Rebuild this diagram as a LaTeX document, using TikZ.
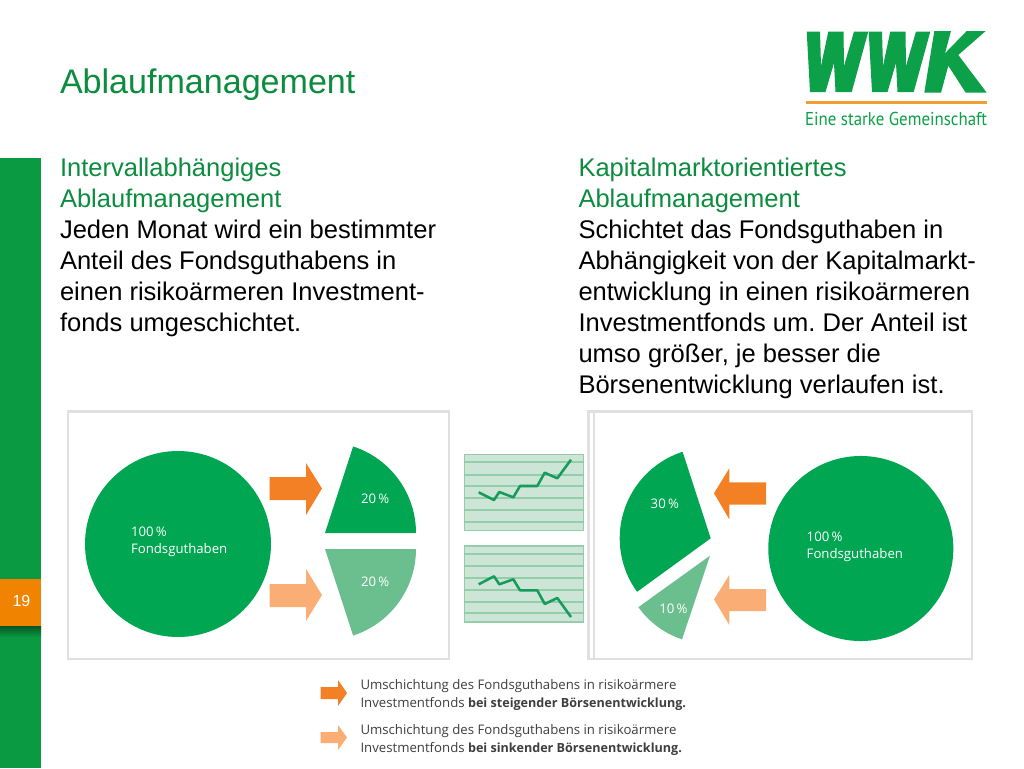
\documentclass[tikz,border=0pt]{standalone}
\usepackage{fontspec}
\setmainfont{Liberation Sans}
\newfontfamily\picfont{Open Sans}
\newfontfamily\logofont{PT Sans}
\frenchspacing
\definecolor{wgreen}{RGB}{10,154,66}
\definecolor{wtitle}{RGB}{12,140,62}
\definecolor{pgreen}{RGB}{0,166,81}
\definecolor{plight}{RGB}{107,190,142}
\definecolor{aorange}{RGB}{243,128,36}
\definecolor{alight}{RGB}{250,174,117}
\definecolor{wbar}{RGB}{240,131,0}
\definecolor{chartbg}{RGB}{205,229,214}
\definecolor{chartln}{RGB}{148,205,170}
\definecolor{chartcv}{RGB}{22,156,90}
\definecolor{legtxt}{RGB}{62,62,62}
\definecolor{logogreen}{RGB}{12,160,72}
\definecolor{logoline}{RGB}{240,160,50}
\tikzset{
  x=0.75pt,y=-0.75pt,
  txt/.style={anchor=base west,inner sep=0pt,outer sep=0pt},
  titletxt/.style={txt,text=wtitle,font=\fontsize{25.55}{28}\selectfont},
  headtxt/.style={txt,text=wtitle,font=\fontsize{19.15}{22}\selectfont},
  bodytxt/.style={txt,text=black,font=\fontsize{19.15}{22}\selectfont},
  pietxt/.style={txt,text=white,font=\picfont\fontsize{9.9}{12}\selectfont},
  legtext/.style={txt,text=legtxt,font=\picfont\fontsize{9.9}{12}\selectfont},
  framebox/.style={draw=black!12,line width=2.2pt,fill=white},
  chartbox/.style={fill=chartbg,draw=chartln,line width=1.4pt},
  chartline/.style={draw=chartln,line width=1.5pt},
  trend/.style={draw=chartcv,line width=1.9pt,line join=round},
}
\newcommand{\sect}[6]{% cx cy r a b colour
  \fill[#6] (#1,#2) -- plot[domain=#4:#5,samples=40,smooth] ({#1+#3*cos(\x)},{#2-#3*sin(\x)}) -- cycle;}
\newcommand{\legbold}[1]{{\fontsize{9.45}{12}\selectfont\bfseries #1}}
\begin{document}
\begin{tikzpicture}
\useasboundingbox (0,0) rectangle (1024,768);
\fill[white] (0,0) rectangle (1024,768);
% sidebar
\fill[wgreen] (0,158) rectangle (41,768);
\shade[top color=wgreen!55!black,bottom color=wgreen] (0,626) rectangle (41,637);
\fill[wbar] (0,579) rectangle (41,626);
\node[anchor=center,inner sep=0pt,text=white,font=\fontsize{12}{14}\selectfont] (pagenum) at (21.5,601) {19};
% title
\node[titletxt] (title) at (60,93) {Ablaufmanagement};
% left column
\node[headtxt] (lh1) at (60,176) {Intervallabhängiges};
\node[headtxt] (lh2) at (60,207) {Ablaufmanagement};
\node[bodytxt] (lb1) at (60,238) {Jeden Monat wird ein bestimmter};
\node[bodytxt] (lb2) at (60,269) {Anteil des Fondsguthabens in};
\node[bodytxt] (lb3) at (60,300) {einen risikoärmeren Investment-};
\node[bodytxt] (lb4) at (60,331) {fonds umgeschichtet.};
% right column
\node[headtxt] (rh1) at (578.5,176) {Kapitalmarktorientiertes};
\node[headtxt] (rh2) at (578.5,207) {Ablaufmanagement};
\node[bodytxt] (rb1) at (578.5,238) {Schichtet das Fondsguthaben in};
\node[bodytxt] (rb2) at (578.5,269) {Abhängigkeit von der Kapitalmarkt-};
\node[bodytxt] (rb3) at (578.5,300) {entwicklung in einen risikoärmeren};
\node[bodytxt] (rb4) at (578.5,331) {Investmentfonds um. Der Anteil ist};
\node[bodytxt] (rb5) at (578.5,362) {umso größer, je besser die};
\node[bodytxt] (rb6) at (578.5,393) {Börsenentwicklung verlaufen ist.};
% logo
\fill[logogreen] (806.7,31.5) -- (820,31.5) -- (821,66) -- (828.3,31.5) -- (843.5,31.5) -- (844,66) -- (854,31.5) -- (868.3,31.5) -- (851.7,92) -- (835.5,92) -- (834,63) -- (825.5,92) -- (810,92) -- cycle;
\fill[logogreen] (868.7,31.5) -- (882,31.5) -- (883,66) -- (890.3,31.5) -- (905.5,31.5) -- (906,66) -- (916,31.5) -- (930.3,31.5) -- (913.7,92) -- (897.5,92) -- (896,63) -- (887.5,92) -- (872,92) -- cycle;
\fill[logogreen] (934.3,31) -- (951,31) -- (945,53.3) -- (966.7,31) -- (985.7,31) -- (958.3,55) -- (986.7,92.7) -- (965.7,92.7) -- (948.3,65.7) -- (941,92.7) -- (924.3,92.7) -- cycle;
\fill[logoline] (806,101) rectangle (987,103.5);
\node[txt,text=logogreen,font=\logofont\fontsize{14}{16}\selectfont,xscale=0.905] (logotxt) at (805,125.5) {Eine starke Gemeinschaft};
% left picture
\path[framebox] (68,411.5) rectangle (449,659);
\fill[pgreen] (178,544) circle[radius=69.75pt];
\node[pietxt] (l100) at (131,536) {100\,\%};
\node[pietxt] (lfonds) at (131,553) {Fondsguthaben};
\fill[aorange] (269.5,477) -- (306,477) -- (306,463) -- (322,488.5) -- (306,515) -- (306,500) -- (269.5,500) -- cycle;
\fill[alight] (269.5,584) -- (306,584) -- (306,569) -- (322,595) -- (306,621) -- (306,607) -- (269.5,607) -- cycle;
\sect{325}{533}{91}{0}{72}{pgreen}
\sect{325}{549}{91}{-72}{0}{plight}
\node[pietxt] (l20a) at (361,503) {20\,\%};
\node[pietxt] (l20b) at (361,586) {20\,\%};
% charts
\path[chartbox] (464.5,454.5) rectangle (583.5,530.5);
\foreach \y in {462.3,475,486,497.7,510,522.3} \draw[chartline] (464.5,\y) -- (583.5,\y);
\draw[trend] (478.7,492.3) -- (494,500) -- (499.3,492) -- (513.3,497.3) -- (520,486) -- (537.3,486) -- (544.7,472.7) -- (557.3,478.3) -- (571,459.7);
\path[chartbox] (464.5,546) rectangle (583.5,622.3);
\foreach \y in {554.3,566.3,578.3,590,601.7,613.3} \draw[chartline] (464.5,\y) -- (583.5,\y);
\draw[trend] (478.7,584.3) -- (494,576.3) -- (499.3,584.3) -- (513.3,579.3) -- (520,590.3) -- (537.3,590.3) -- (544.7,604) -- (557.3,598) -- (571,617);
% right picture
\path[framebox] (588.5,411.5) rectangle (972,659);
\draw[black!12,line width=1.5pt] (594,413) -- (594,658);
\fill[pgreen] (860.8,548.5) circle[radius=69.4pt];
\node[pietxt] (r100) at (806.7,541) {100\,\%};
\node[pietxt] (rfonds) at (806.7,558.3) {Fondsguthaben};
\fill[aorange] (766,482.3) -- (729.3,482.3) -- (729.3,468.3) -- (714,493.3) -- (729.3,519.3) -- (729.3,504.5) -- (766,504.5) -- cycle;
\fill[alight] (766,589) -- (729.3,589) -- (729.3,575) -- (714,599.5) -- (729.3,625) -- (729.3,611) -- (766,611) -- cycle;
\sect{710.7}{538.3}{91}{108}{216}{pgreen}
\sect{710}{555.7}{88.2}{215.7}{251.5}{plight}
\node[pietxt] (r30) at (650.7,508.3) {30\,\%};
\node[pietxt] (r10) at (659.3,613.3) {10\,\%};
% legend
\fill[aorange] (320.7,687) -- (338,687) -- (338,680) -- (347,693) -- (338,706) -- (338,699) -- (320.7,699) -- cycle;
\fill[alight] (320.7,732) -- (338,732) -- (338,725) -- (347,737.5) -- (338,750) -- (338,743) -- (320.7,743) -- cycle;
\node[legtext] (lg1) at (360.5,689) {Umschichtung des Fondsguthabens in risikoärmere};
\node[legtext] (lg2) at (360.5,707) {Investmentfonds \legbold{bei steigender Börsenentwicklung.}};
\node[legtext] (lg3) at (360.5,734) {Umschichtung des Fondsguthabens in risikoärmere};
\node[legtext] (lg4) at (360.5,752) {Investmentfonds \legbold{bei sinkender Börsenentwicklung.}};
\end{tikzpicture}
\end{document}
